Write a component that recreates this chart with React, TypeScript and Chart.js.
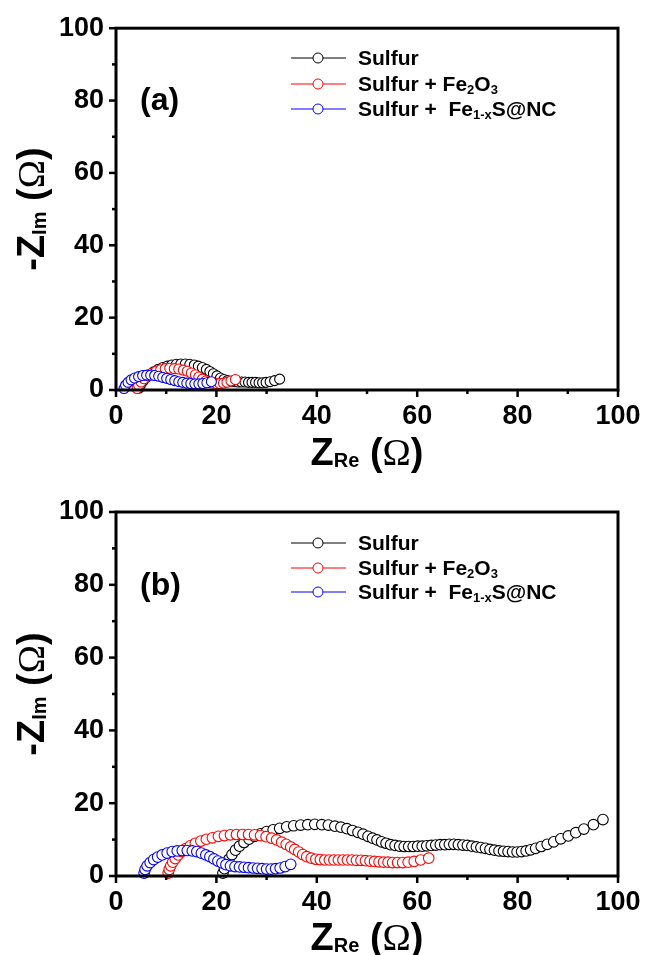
import React, { useEffect, useRef } from 'react';
import { Chart, registerables } from 'chart.js';

Chart.register(...registerables);

// ---------------- DATA ----------------
const seriesNames = ['Sulfur', 'Sulfur + Fe2O3', 'Sulfur +  Fe1-xS@NC'];
const seriesColors = ['#000000', '#ff0000', '#0000ff'];
const axisTicks = [0, 20, 40, 60, 80, 100];

// Panel (a)
const aSulfurRe = [4.6, 4.9, 5.4, 6.0, 6.7, 7.5, 8.4, 9.3, 10.2, 11.1, 12.0, 12.9, 13.8, 14.7, 15.6, 16.4, 17.2, 18.0, 18.7, 19.4, 20.1, 20.8, 21.5, 22.2, 22.9, 23.6, 24.3, 25.0, 25.7, 26.4, 27.1, 27.8, 28.5, 29.2, 29.9, 30.7, 31.6, 32.6];
const aSulfurIm = [0.5, 1.5, 2.5, 3.4, 4.2, 5.0, 5.7, 6.2, 6.6, 6.9, 7.1, 7.2, 7.2, 7.1, 6.9, 6.6, 6.2, 5.7, 5.1, 4.5, 3.9, 3.3, 2.9, 2.6, 2.4, 2.3, 2.2, 2.2, 2.2, 2.1, 2.1, 2.1, 2.0, 2.0, 2.1, 2.3, 2.6, 3.0];
const aFe2O3Re = [4.2, 4.5, 5.0, 5.6, 6.3, 7.1, 8.0, 8.9, 9.8, 10.7, 11.6, 12.5, 13.4, 14.2, 15.0, 15.8, 16.5, 17.2, 17.9, 18.6, 19.3, 20.0, 20.7, 21.4, 22.1, 22.9, 23.8];
const aFe2O3Im = [0.4, 1.3, 2.2, 3.1, 3.9, 4.6, 5.2, 5.6, 5.9, 6.0, 5.9, 5.8, 5.5, 5.2, 4.7, 4.2, 3.6, 3.0, 2.5, 2.1, 1.9, 1.8, 1.8, 1.9, 2.1, 2.5, 2.9];
const aFeSRe = [1.6, 1.9, 2.4, 3.0, 3.7, 4.5, 5.3, 6.1, 6.9, 7.7, 8.5, 9.3, 10.1, 10.9, 11.7, 12.5, 13.3, 14.1, 14.9, 15.7, 16.5, 17.3, 18.1, 19.0];
const aFeSIm = [0.4, 1.3, 2.1, 2.8, 3.3, 3.7, 4.0, 4.1, 4.1, 4.0, 3.8, 3.5, 3.2, 2.9, 2.6, 2.3, 2.1, 1.9, 1.8, 1.7, 1.7, 1.8, 2.0, 2.3];

// Panel (b)
const bSulfurRe = [21.3, 21.6, 22.0, 22.5, 23.1, 23.8, 24.6, 25.5, 26.5, 27.6, 28.8, 30.0, 31.3, 32.6, 34.0, 35.4, 36.8, 38.2, 39.6, 41.0, 42.3, 43.6, 44.8, 46.0, 47.1, 48.2, 49.2, 50.2, 51.1, 52.0, 52.9, 53.8, 54.7, 55.6, 56.5, 57.4, 58.3, 59.2, 60.1, 61.0, 61.9, 62.8, 63.7, 64.6, 65.5, 66.4, 67.3, 68.2, 69.1, 70.0, 70.9, 71.8, 72.7, 73.6, 74.5, 75.4, 76.3, 77.2, 78.1, 79.0, 79.9, 80.8, 81.7, 82.6, 83.6, 84.7, 85.9, 87.2, 88.6, 90.1, 91.6, 93.2, 95.1, 97.0];
const bSulfurIm = [0.8, 2.0, 3.3, 4.6, 5.9, 7.1, 8.2, 9.2, 10.1, 10.9, 11.6, 12.2, 12.7, 13.1, 13.5, 13.8, 14.0, 14.1, 14.2, 14.1, 14.0, 13.7, 13.4, 13.0, 12.5, 12.0, 11.5, 10.9, 10.4, 9.9, 9.4, 9.0, 8.6, 8.4, 8.2, 8.1, 8.1, 8.1, 8.2, 8.2, 8.3, 8.4, 8.5, 8.6, 8.6, 8.7, 8.7, 8.6, 8.5, 8.4, 8.2, 8.0, 7.8, 7.6, 7.3, 7.1, 6.9, 6.8, 6.7, 6.6, 6.6, 6.7, 6.9, 7.2, 7.6, 8.1, 8.7, 9.4, 10.2, 11.0, 11.9, 12.9, 14.1, 15.5];
const bFe2O3Re = [10.4, 10.6, 10.9, 11.3, 11.8, 12.4, 13.1, 13.9, 14.8, 15.8, 16.9, 18.0, 19.2, 20.4, 21.6, 22.8, 24.0, 25.2, 26.4, 27.6, 28.8, 29.9, 31.0, 32.0, 33.0, 33.9, 34.8, 35.6, 36.4, 37.2, 38.0, 38.9, 39.8, 40.7, 41.6, 42.5, 43.4, 44.3, 45.2, 46.1, 47.0, 47.9, 48.8, 49.7, 50.6, 51.5, 52.4, 53.3, 54.2, 55.1, 56.1, 57.1, 58.2, 59.4, 60.7, 62.3];
const bFe2O3Im = [0.8, 1.8, 2.8, 3.8, 4.8, 5.8, 6.7, 7.5, 8.3, 9.0, 9.6, 10.1, 10.5, 10.9, 11.1, 11.3, 11.4, 11.4, 11.4, 11.3, 11.1, 10.8, 10.4, 9.9, 9.3, 8.7, 8.0, 7.3, 6.6, 5.9, 5.3, 4.9, 4.6, 4.5, 4.4, 4.4, 4.4, 4.4, 4.4, 4.4, 4.4, 4.3, 4.3, 4.2, 4.1, 4.0, 3.9, 3.8, 3.8, 3.7, 3.7, 3.7, 3.8, 4.0, 4.4, 4.9];
const bFeSRe = [5.6, 5.8, 6.2, 6.8, 7.5, 8.3, 9.2, 10.2, 11.2, 12.2, 13.2, 14.2, 15.2, 16.1, 17.0, 17.9, 18.7, 19.5, 20.3, 21.1, 21.9, 22.8, 23.7, 24.6, 25.5, 26.4, 27.3, 28.2, 29.1, 30.0, 30.9, 31.8, 32.7, 33.7, 34.8];
const bFeSIm = [0.8, 1.8, 2.8, 3.7, 4.5, 5.2, 5.8, 6.3, 6.7, 6.9, 7.0, 7.0, 6.9, 6.7, 6.3, 5.8, 5.3, 4.7, 4.1, 3.6, 3.1, 2.8, 2.6, 2.5, 2.4, 2.3, 2.2, 2.1, 2.0, 1.9, 1.9, 2.0, 2.2, 2.6, 3.2];

// ---------------- HELPERS ----------------
type Part = { t: string; size: number; bold?: boolean; serif?: boolean; dy?: number };

const SANS = '"Liberation Sans", Arial, sans-serif';
const SERIF = '"Liberation Serif", "Times New Roman", serif';

function partFont(p: Part) {
  return `${p.bold ? 'bold ' : ''}${p.size}px ${p.serif ? SERIF : SANS}`;
}

function richWidth(ctx: CanvasRenderingContext2D, parts: Part[]) {
  let w = 0;
  for (const p of parts) {
    ctx.font = partFont(p);
    w += ctx.measureText(p.t).width;
  }
  return w;
}

function drawRich(ctx: CanvasRenderingContext2D, parts: Part[], x: number, y: number, align: 'left' | 'center') {
  let cx = align === 'center' ? x - richWidth(ctx, parts) / 2 : x;
  ctx.textAlign = 'left';
  ctx.textBaseline = 'alphabetic';
  for (const p of parts) {
    ctx.font = partFont(p);
    ctx.fillText(p.t, cx, y + (p.dy || 0));
    cx += ctx.measureText(p.t).width;
  }
}

function legendParts(i: number): Part[] {
  const s = 21;
  const sub = 13;
  const base = seriesNames[i];
  if (i === 0) return [{ t: base, size: s, bold: true }];
  if (i === 1)
    return [
      { t: 'Sulfur + Fe', size: s, bold: true },
      { t: '2', size: sub, bold: true, dy: 3 },
      { t: 'O', size: s, bold: true },
      { t: '3', size: sub, bold: true, dy: 3 },
    ];
  return [
    { t: 'Sulfur +  Fe', size: s, bold: true },
    { t: '1-x', size: sub, bold: true, dy: 3 },
    { t: 'S@NC', size: s, bold: true },
  ];
}

function makePanelPlugin(cfg: { label: string; legendY: number[]; labelY: number; xTitleY: number }) {
  return {
    id: 'panelDecor',
    afterDraw(chart: any) {
      const { ctx, chartArea: ca, scales } = chart;
      const xs = scales.x;
      const ys = scales.y;
      ctx.save();
      ctx.fillStyle = '#000';
      ctx.strokeStyle = '#000';
      // frame
      ctx.lineWidth = 3;
      ctx.strokeRect(ca.left, ca.top, ca.right - ca.left, ca.bottom - ca.top);
      // ticks
      ctx.lineWidth = 2.5;
      for (let v = 0; v <= 100; v += 10) {
        const major = v % 20 === 0;
        const len = major ? 7 : 4;
        const px = xs.getPixelForValue(v);
        ctx.beginPath();
        ctx.moveTo(px, ca.bottom);
        ctx.lineTo(px, ca.bottom + len);
        ctx.stroke();
        const py = ys.getPixelForValue(v);
        ctx.beginPath();
        ctx.moveTo(ca.left, py);
        ctx.lineTo(ca.left - len, py);
        ctx.stroke();
      }
      // panel label
      ctx.font = `bold 32px ${SANS}`;
      ctx.textAlign = 'left';
      ctx.textBaseline = 'middle';
      ctx.fillText(cfg.label, 140, cfg.labelY);
      // legend
      for (let i = 0; i < 3; i++) {
        const y = cfg.legendY[i];
        ctx.strokeStyle = seriesColors[i];
        ctx.lineWidth = 1;
        ctx.beginPath();
        ctx.moveTo(291, y);
        ctx.lineTo(346, y);
        ctx.stroke();
        ctx.beginPath();
        ctx.arc(318, y, 5, 0, Math.PI * 2);
        ctx.fillStyle = '#fff';
        ctx.fill();
        ctx.stroke();
        ctx.fillStyle = '#000';
        drawRich(ctx, legendParts(i), 358, y + 7, 'left');
      }
      // x title
      const cx = (ca.left + ca.right) / 2;
      drawRich(
        ctx,
        [
          { t: 'Z', size: 38, bold: true },
          { t: 'Re', size: 20, bold: true, dy: 2 },
          { t: ' (', size: 38, bold: true },
          { t: 'Ω', size: 38, serif: true },
          { t: ')', size: 38, bold: true },
        ],
        cx,
        cfg.xTitleY + 13,
        'center'
      );
      // y title
      const cy = (ca.top + ca.bottom) / 2;
      ctx.save();
      ctx.translate(31, cy);
      ctx.rotate(-Math.PI / 2);
      drawRich(
        ctx,
        [
          { t: '-Z', size: 38, bold: true },
          { t: 'Im', size: 20, bold: true, dy: 2 },
          { t: ' (', size: 38, bold: true },
          { t: 'Ω', size: 38, serif: true },
          { t: ')', size: 38, bold: true },
        ],
        0,
        13,
        'center'
      );
      ctx.restore();
      ctx.restore();
    },
  };
}

function pts(xs: number[], ys: number[]) {
  return xs.map((x, i) => ({ x, y: ys[i] }));
}

function makeConfig(
  data: { re: number[]; im: number[] }[],
  radius: number,
  padTop: number,
  xAxisHeight: number,
  plugin: any
) {
  const tickFont = { family: SANS, weight: 'bold' as const, size: 27 };
  return {
    type: 'scatter' as const,
    data: {
      datasets: data.map((d, i) => ({
        label: seriesNames[i],
        data: pts(d.re, d.im),
        showLine: true,
        borderColor: seriesColors[i],
        borderWidth: 1,
        pointRadius: radius,
        pointBorderWidth: 1.1,
        pointBorderColor: seriesColors[i],
        pointBackgroundColor: '#ffffff',
        order: 3 - i,
        clip: false as const,
      })),
    },
    options: {
      animation: false as const,
      responsive: true,
      maintainAspectRatio: false,
      layout: { padding: { top: padTop, right: 35, left: 0, bottom: 0 } },
      plugins: { legend: { display: false }, tooltip: { enabled: false } },
      scales: {
        x: {
          type: 'linear' as const,
          min: 0,
          max: 100,
          grid: { display: false, drawTicks: false },
          border: { display: false },
          ticks: {
            stepSize: 20,
            color: '#000',
            font: tickFont,
            padding: 10,
            callback: (v: any) => (axisTicks.includes(v) ? String(v) : ''),
          },
          afterFit: (s: any) => {
            s.height = xAxisHeight;
          },
        },
        y: {
          type: 'linear' as const,
          min: 0,
          max: 100,
          grid: { display: false, drawTicks: false },
          border: { display: false },
          ticks: {
            stepSize: 20,
            color: '#000',
            font: tickFont,
            padding: 12,
            callback: (v: any) => (axisTicks.includes(v) ? String(v) : ''),
          },
          afterFit: (s: any) => {
            s.width = 116;
          },
        },
      },
    },
    plugins: [plugin],
  };
}

function Panel(props: {
  height: number;
  data: { re: number[]; im: number[] }[];
  radius: number;
  padTop: number;
  xAxisHeight: number;
  label: string;
  legendY: number[];
  labelY: number;
  xTitleY: number;
}) {
  const ref = useRef<HTMLCanvasElement>(null);
  useEffect(() => {
    if (!ref.current) return;
    const plugin = makePanelPlugin({
      label: props.label,
      legendY: props.legendY,
      labelY: props.labelY,
      xTitleY: props.xTitleY,
    });
    const chart = new Chart(
      ref.current,
      makeConfig(props.data, props.radius, props.padTop, props.xAxisHeight, plugin) as any
    );
    return () => chart.destroy();
  }, []);
  return (
    <div style={{ position: 'relative', width: 653, height: props.height }}>
      <canvas ref={ref} />
    </div>
  );
}

export default function App() {
  return (
    <div style={{ position: 'absolute', left: 0, top: 0, width: 653, height: 955, background: '#fff' }}>
      <Panel
        height={480}
        data={[
          { re: aSulfurRe, im: aSulfurIm },
          { re: aFe2O3Re, im: aFe2O3Im },
          { re: aFeSRe, im: aFeSIm },
        ]}
        radius={5}
        padTop={25}
        xAxisHeight={90}
        label="(a)"
        legendY={[58, 84, 109]}
        labelY={101}
        xTitleY={452}
      />
      <Panel
        height={475}
        data={[
          { re: bSulfurRe, im: bSulfurIm },
          { re: bFe2O3Re, im: bFe2O3Im },
          { re: bFeSRe, im: bFeSIm },
        ]}
        radius={5.3}
        padTop={32}
        xAxisHeight={79}
        label="(b)"
        legendY={[63, 88, 112]}
        labelY={106}
        xTitleY={457}
      />
    </div>
  );
}
